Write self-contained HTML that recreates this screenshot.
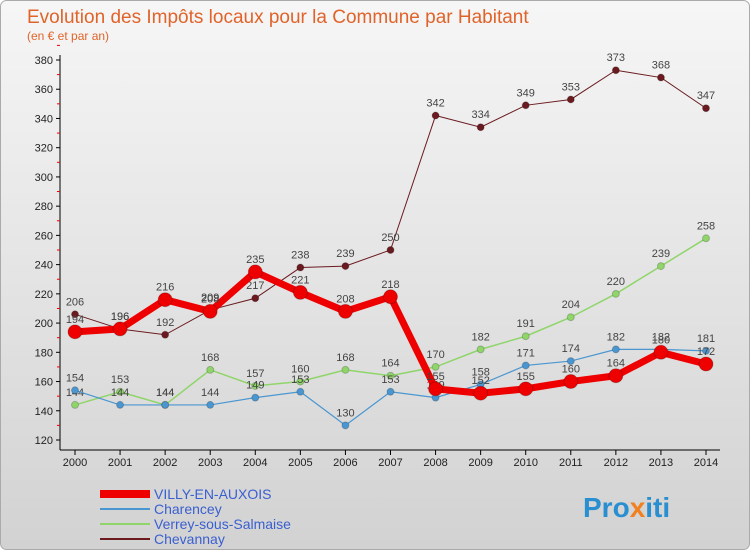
<!DOCTYPE html>
<html><head><meta charset="utf-8"><style>
body{margin:0;width:750px;height:550px;overflow:hidden;font-family:"Liberation Sans",sans-serif}
#c{position:absolute;left:0;top:0}
</style></head><body>
<svg id="c" width="750" height="550">
<defs><linearGradient id="bg" x1="0" y1="0" x2="0" y2="1"><stop offset="0" stop-color="#f6f6f6"/><stop offset="1" stop-color="#d2d2d2"/></linearGradient></defs>
<rect x="0.5" y="0.5" width="749" height="549" rx="6" fill="url(#bg)" stroke="#aaa"/>
<text x="27" y="23" font-size="19" fill="#e0642a">Evolution des Impôts locaux pour la Commune par Habitant</text>
<text x="27" y="40" font-size="12" fill="#e0642a">(en € et par an)</text>
<g id="axes"></g><g id="series"></g><g id="legend"></g>
<text x="583" y="517" font-size="28" font-weight="bold" fill="#2a8fd0">Pro<tspan fill="#f08020">x</tspan>iti</text>
</svg>
<script>
const years=[2000,2001,2002,2003,2004,2005,2006,2007,2008,2009,2010,2011,2012,2013,2014];
const yTicks=[120,140,160,180,200,220,240,260,280,300,320,340,360,380];
const villy=[194,196,216,208,235,221,208,218,155,152,155,160,164,180,172];
const charencey=[154,144,144,144,149,153,130,153,149,158,171,174,182,182,181];
const verrey=[144,153,144,168,157,160,168,164,170,182,191,204,220,239,258];
const chevannay=[206,196,192,209,217,238,239,250,342,334,349,353,373,368,347];
const NS="http://www.w3.org/2000/svg";
function x(i){return 75+i*(706-75)/14;}
function y(v){return 440-(v-120)*380/260;}
function mk(t,a,p){const e=document.createElementNS(NS,t);for(const k in a)e.setAttribute(k,a[k]);p.appendChild(e);return e;}
const ax=document.getElementById('axes');
const yl=mk('line',{x1:60,y1:55,x2:60,y2:450,stroke:'#000'},ax);


const xl=mk('line',{x1:60,y1:450,x2:720,y2:450,stroke:'#000'},ax);


yTicks.forEach(v=>{
 mk('line',{x1:56,y1:y(v),x2:60,y2:y(v),stroke:'#000'},ax);
 mk('line',{x1:57,y1:y(v+10),x2:60,y2:y(v+10),stroke:'#e00'},ax);
 const t=mk('text',{x:53,y:y(v)+4,'font-size':11,'text-anchor':'end',fill:'#222'},ax);t.textContent=v;
 
 
});
years.forEach((yr,i)=>{
 mk('line',{x1:x(i),y1:450,x2:x(i),y2:455,stroke:'#000'},ax);
 const t=mk('text',{x:x(i),y:466,'font-size':11,'text-anchor':'middle',fill:'#222'},ax);t.textContent=yr;
 
 
});
const sg=document.getElementById('series');
const S=[
 {n:'chevannay',d:chevannay,c:'#6b1a1f',w:1,r:3.5,l:'Chevannay'},
 {n:'verrey',d:verrey,c:'#8fd56a',w:1.5,r:3.5,l:'Verrey-sous-Salmaise'},
 {n:'charencey',d:charencey,c:'#4a96d0',w:1.2,r:3.5,l:'Charencey'},
 {n:'villy',d:villy,c:'#ee0000',w:7,r:7,l:'VILLY-EN-AUXOIS'}];
S.forEach(s=>{
 const g=mk('g',{},sg);
 
 
 const p=mk('polyline',{points:s.d.map((v,i)=>x(i)+','+y(v)).join(' '),fill:'none',stroke:s.c,'stroke-width':s.w},g);
 
 
 s.d.forEach((v,i)=>{
  const c=mk('circle',{cx:x(i),cy:y(v),r:s.r,fill:s.c,stroke:'rgba(0,0,0,0.2)'},g);
  
  
  const t=mk('text',{x:x(i),y:y(v)-9,'font-size':11,'text-anchor':'middle',fill:'#444'},g);t.textContent=v;
  
  
 });
});
const lg=document.getElementById('legend');
[S[3],S[2],S[1],S[0]].forEach((s,i)=>{
 const yy=494+i*15;
 const l=mk('line',{x1:100,y1:yy,x2:150,y2:yy,stroke:s.c,'stroke-width':s.n==='villy'?8:2},lg);
 
 
 const t=mk('text',{x:154,y:yy+5,'font-size':14,fill:'#3a5fd0'},lg);t.textContent=s.l;
 
 
});
</script>
</body></html>
